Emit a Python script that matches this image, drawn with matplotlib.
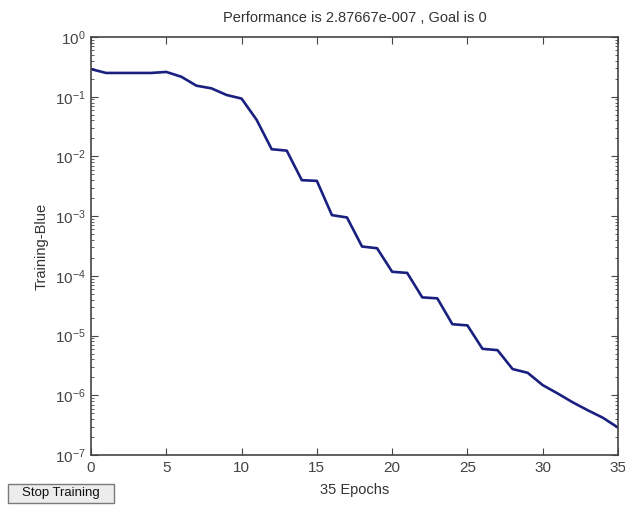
import numpy as np
import matplotlib.pyplot as plt
from matplotlib.patches import FancyBboxPatch

plt.rcParams['font.family'] = ['Liberation Sans', 'DejaVu Sans']
plt.rcParams['mathtext.fontset'] = 'custom'
plt.rcParams['mathtext.rm'] = 'Liberation Sans'
plt.rcParams['mathtext.it'] = 'Liberation Sans'

# training performance per epoch
epochs = list(range(36))
perf = [0.29, 0.25, 0.25, 0.25, 0.25, 0.26, 0.216, 0.153, 0.138, 0.107,
        0.093, 0.041, 0.0132, 0.0125, 0.0040, 0.0039, 1.04e-3, 9.5e-4,
        3.1e-4, 2.9e-4, 1.17e-4, 1.12e-4, 4.36e-5, 4.2e-5, 1.55e-5,
        1.48e-5, 6.0e-6, 5.7e-6, 2.75e-6, 2.38e-6, 1.48e-6, 1.07e-6,
        7.6e-7, 5.6e-7, 4.2e-7, 2.87667e-7]
goal = 0
xticks = [0, 5, 10, 15, 20, 25, 30, 35]

fig = plt.figure(figsize=(6.25, 5.05), dpi=100)
ax = fig.add_axes([91/625, 1 - 455/505, (618 - 91)/625, (455 - 37)/505])

ax.semilogy(epochs, perf, color='#1a2080', lw=1.9)

ax.set_xlim(0, 35)
ax.set_ylim(1e-7, 1e0)
ax.set_xticks(xticks)
ax.set_yticks([10.0**k for k in range(-7, 1)])
ax.tick_params(which='both', direction='in', top=True, right=True,
               labelsize=11, colors='#444444')
ax.tick_params(which='major', length=5, pad=4)
ax.tick_params(which='minor', length=2.5)
for s in ax.spines.values():
    s.set_color('#444444')
    s.set_linewidth(1.2)

ax.set_title(f"Performance is {perf[-1]:g}".replace("e-07", "e-007") + f" , Goal is {goal}",
             fontsize=10.5, pad=11, color='#333333')
ax.set_xlabel(f"{len(epochs) - 1} Epochs", fontsize=10.5, labelpad=6, color='#333333')
ax.set_ylabel("Training-Blue", fontsize=10.5, labelpad=4, color='#333333')

# the "Stop Training" button from the training window
btn = FancyBboxPatch((8/625, 1 - 503/505), 106/625, 19/505,
                     boxstyle='square,pad=0', transform=fig.transFigure,
                     facecolor='#ececec', edgecolor='#7a7a7a', lw=1)
fig.patches.append(btn)
fig.text(61/625, 1 - 493/505, "Stop Training", ha='center', va='center',
         fontsize=9.5, color='#111111')

fig.savefig("out.png", dpi=100, facecolor='white')
